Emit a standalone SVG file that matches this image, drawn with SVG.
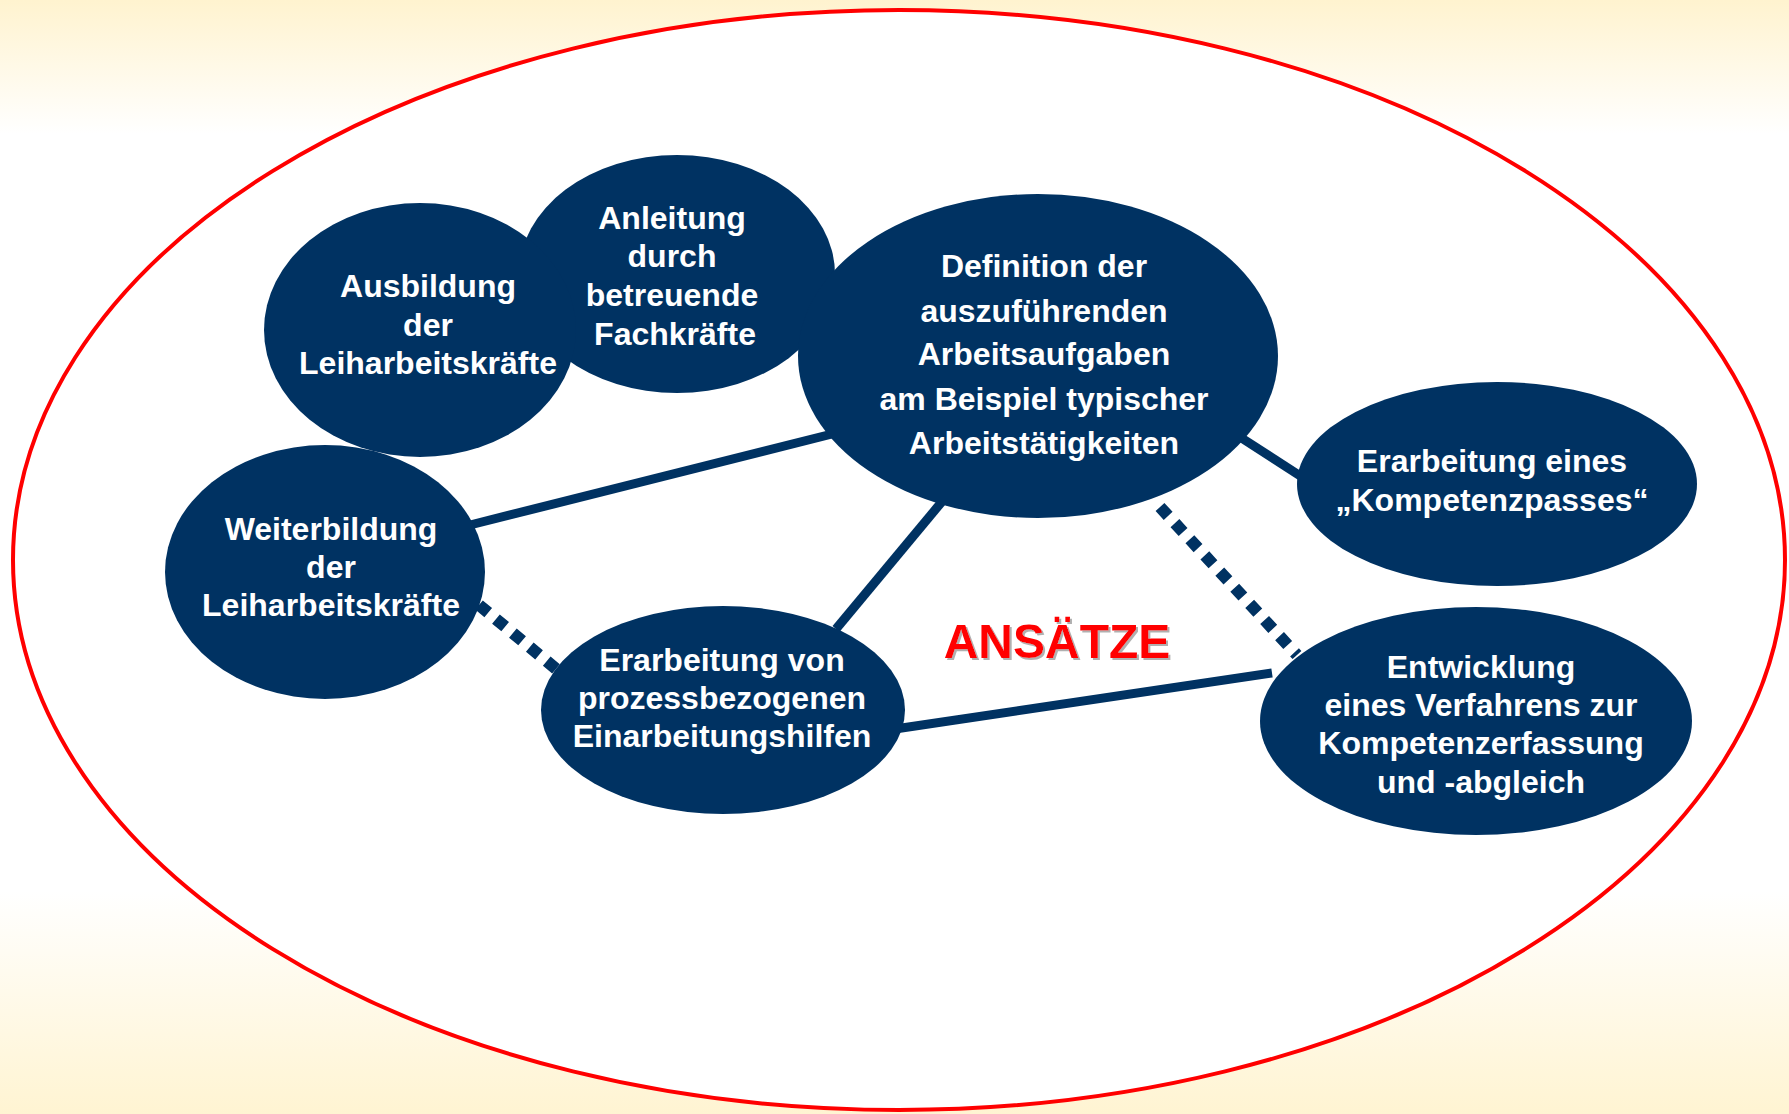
<svg xmlns="http://www.w3.org/2000/svg" width="1789" height="1114" viewBox="0 0 1789 1114">
<defs>
<linearGradient id="bg" x1="0" y1="0" x2="0" y2="1">
<stop offset="0" stop-color="#FFF3CF"/>
<stop offset="0.12" stop-color="#FFFFFF"/>
<stop offset="0.8" stop-color="#FFFFFF"/>
<stop offset="1" stop-color="#FFF4D2"/>
</linearGradient>
<filter id="sh" x="-10%" y="-20%" width="130%" height="150%">
<feOffset in="SourceAlpha" dx="2" dy="2" result="o"/>
<feFlood flood-color="#b0b0b0"/>
<feComposite in2="o" operator="in" result="s"/>
<feMerge><feMergeNode in="s"/><feMergeNode in="SourceGraphic"/></feMerge>
</filter>
</defs>
<style>
.node{fill:#003262}
.t{font-family:"Liberation Sans",Arial,sans-serif;font-weight:bold;font-size:32px;fill:#FFFFFF;text-anchor:middle}
.solid{stroke:#003262;stroke-width:9;fill:none}
.dot{stroke:#003262;stroke-width:12;fill:none;stroke-dasharray:12 10}
</style>
<rect x="0" y="0" width="1789" height="1114" fill="url(#bg)"/>
<ellipse cx="899" cy="560" rx="886" ry="550" fill="#FFFFFF" stroke="#FF0000" stroke-width="4"/>
<g id="connectors">
<line class="solid" x1="470" y1="525" x2="840" y2="432"/>
<line class="solid" x1="945" y1="498" x2="836" y2="629"/>
<line class="solid" x1="1240" y1="437" x2="1305" y2="479"/>
<line class="solid" x1="895" y1="729" x2="1272" y2="673"/>
<line class="dot" x1="479" y1="605" x2="561" y2="673"/>
<line class="dot" x1="1160" y1="507" x2="1297" y2="655"/>
</g>
<g id="n-anleitung">
<ellipse class="node" cx="677" cy="274" rx="158" ry="119"/>
<text class="t"><tspan x="672" y="229">Anleitung</tspan><tspan x="672" y="267">durch</tspan><tspan x="672" y="306">betreuende</tspan><tspan x="675" y="345">Fachkräfte</tspan></text>
</g>
<g id="n-ausbildung">
<ellipse class="node" cx="420" cy="330" rx="156" ry="127"/>
<text class="t"><tspan x="428" y="297">Ausbildung</tspan><tspan x="428" y="336">der</tspan><tspan x="428" y="374">Leiharbeitskräfte</tspan></text>
</g>
<g id="n-definition">
<ellipse class="node" cx="1038" cy="356" rx="240" ry="162"/>
<text class="t"><tspan x="1044" y="277">Definition der</tspan><tspan x="1044" y="322">auszuführenden</tspan><tspan x="1044" y="365">Arbeitsaufgaben</tspan><tspan x="1044" y="410">am Beispiel typischer</tspan><tspan x="1044" y="454">Arbeitstätigkeiten</tspan></text>
</g>
<g id="n-weiterbildung">
<ellipse class="node" cx="325" cy="572" rx="160" ry="127"/>
<text class="t"><tspan x="331" y="540">Weiterbildung</tspan><tspan x="331" y="578">der</tspan><tspan x="331" y="616">Leiharbeitskräfte</tspan></text>
</g>
<g id="n-erarbeitung">
<ellipse class="node" cx="723" cy="710" rx="182" ry="104"/>
<text class="t"><tspan x="722" y="671">Erarbeitung von</tspan><tspan x="722" y="709">prozessbezogenen</tspan><tspan x="722" y="747">Einarbeitungshilfen</tspan></text>
</g>
<g id="n-kompetenzpass">
<ellipse class="node" cx="1497" cy="484" rx="200" ry="102"/>
<text class="t"><tspan x="1492" y="472">Erarbeitung eines</tspan><tspan x="1492" y="511">„Kompetenzpasses“</tspan></text>
</g>
<g id="n-entwicklung">
<ellipse class="node" cx="1476" cy="721" rx="216" ry="114"/>
<text class="t"><tspan x="1481" y="678">Entwicklung</tspan><tspan x="1481" y="716">eines Verfahrens zur</tspan><tspan x="1481" y="754">Kompetenzerfassung</tspan><tspan x="1481" y="793">und -abgleich</tspan></text>
</g>
<text x="1057" y="658" font-family="'Liberation Sans',Arial,sans-serif" font-weight="bold" font-size="48" fill="#FF0000" text-anchor="middle" filter="url(#sh)">ANSÄTZE</text>
</svg>
